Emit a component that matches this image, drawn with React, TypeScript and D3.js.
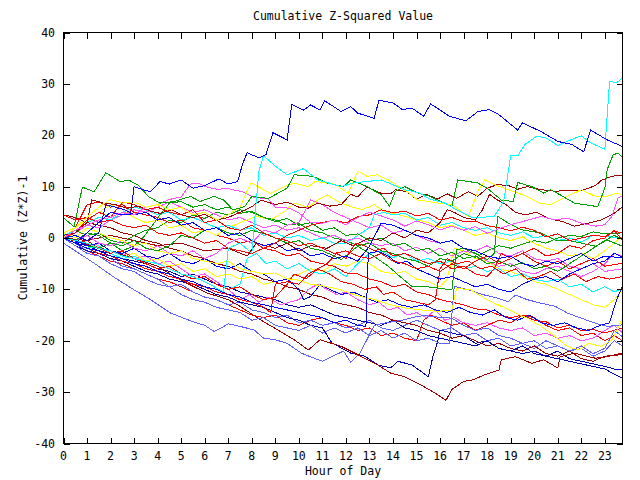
import React from "react";
import * as d3 from "d3";

type P = [number, number];

const title = "Cumulative Z-Squared Value";
const xLabel = "Hour of Day";
const yLabel = "Cumulative (Z*Z)-1";
const xTicks = d3.range(0, 24);
const yTicks = [-40, -30, -20, -10, 0, 10, 20, 30, 40];

const B1: P[] = [[0,0],[0.5,-1],[1,1],[1.5,3],[2,5],[2.5,4.5],[2.85,4.5],[3.0,10],[3.3,9.5],[3.7,9],[4.1,11],[4.5,10.5],[5,11.3],[5.5,9.7],[6,10.2],[6.6,11.5],[7,10.5],[7.4,11],[7.6,14.3],[7.8,16.6],[8.3,15.6],[8.6,16.2],[8.9,20.5],[9.5,19.1],[9.7,26],[10.2,24.9],[10.5,25.9],[10.9,24.9],[11.1,26.7],[11.8,24.6],[12.2,25.6],[12.5,24.3],[13.2,23.3],[13.4,26.8],[14,26.3],[14.4,25],[14.8,25.3],[15.3,23.7],[15.6,26.1],[16.4,23.7],[17.1,22.8],[17.6,24.6],[18.1,25],[18.5,24],[19.3,21],[19.5,22.4],[20.3,20.7],[21,18.8],[21.6,18.2],[22.1,16.8],[22.4,21],[23.1,19.1],[23.75,17.8]];
const C1: P[] = [[0,0],[0.5,-0.5],[1,-1],[1.5,-2],[2,-2.5],[2.5,-3.5],[3,-4],[3.5,-4.5],[4,-5],[4.5,-6],[5,-7],[5.5,-7.5],[6,-8.5],[6.4,-9.5],[6.8,-10.5],[7.0,-2],[7.5,-1],[8.0,-3],[8.3,13],[8.5,16],[9,14],[9.5,12.3],[10.2,13.5],[10.8,11.3],[11.8,10],[12.3,10.7],[13.5,11.3],[14.5,9.4],[15.1,8.8],[15.6,7.5],[16.2,6.8],[16.7,5.5],[17.4,3.9],[18.3,4.2],[18.7,7.1],[19.0,16],[19.3,16],[19.6,18.2],[20.1,19.8],[20.5,19.5],[21.0,18],[21.5,19],[22.0,19.9],[22.4,18.5],[23.0,17.3],[23.2,30.5],[23.5,30.2],[23.75,31.2]];
const G1: P[] = [[0,3.9],[0.45,2.2],[0.8,9.9],[1.3,9],[1.8,12.7],[2.4,11],[2.8,11.2],[3.2,10.2],[3.6,8.1],[4.1,6.8],[4.7,7.1],[5.4,8.1],[5.8,7.1],[6.4,8.1],[6.8,7.4],[7.2,5.5],[7.7,6.1],[8.0,8.1],[8.7,7.7],[9.5,9.7],[9.8,12.3],[10.6,12],[11.2,10.7],[11.9,10],[12.2,11.3],[12.9,10],[13.5,8.4],[13.85,6.2],[14.1,9.1],[14.5,10],[15.05,8.75],[15.5,8.2],[15.9,7.4],[16.5,6.1],[16.75,11.3],[17.2,11],[17.6,10.7],[18.0,9.7],[18.6,7.4],[19.1,7.1],[19.3,10.8],[19.9,10],[20.4,8.75],[20.7,9.4],[21.1,8.4],[21.7,6.8],[22.7,6.1],[23.0,9.7],[23.1,13.3],[23.35,16.2],[23.56,16.5],[23.75,15.75]];
const Y1: P[] = [[0,1],[0.5,2],[1,4],[1.5,6],[2,7.5],[2.5,6.8],[3,7],[3.5,6],[4,6.5],[4.5,5.5],[5,6],[5.5,4.5],[6,5],[6.5,3.5],[7,4.5],[7.5,6],[7.96,10.7],[8.8,8.7],[9.4,10],[9.8,10.7],[10.4,10],[10.7,11],[11.5,10.5],[12.1,8.7],[12.5,13],[12.9,12],[13.35,12.3],[13.8,11.3],[14.6,9],[15.05,7.4],[15.5,7.1],[15.9,6.8],[16.5,6.5],[17.2,4.2],[17.6,9],[17.9,11.3],[18.3,10.4],[18.9,9.4],[19.7,8.1],[20.2,6.8],[20.7,6.5],[21.1,7.4],[21.7,8.75],[22,9.4],[22.6,8.1],[23.1,8.1],[23.5,8.75],[23.75,8.4]];
const DR2: P[] = [[0,0.5],[0.5,1],[1,3],[1.2,7.4],[1.7,6.8],[2.2,6.5],[2.7,5.8],[3.2,6.2],[3.7,5.2],[4.1,4.8],[4.6,5.5],[5,4.5],[5.5,4],[6,4.6],[6.5,3.5],[7,4],[7.5,5],[8,6.1],[8.4,7.4],[9,6.5],[9.5,7],[10,6],[10.4,5.8],[10.8,6.8],[11.3,6.2],[11.8,6.5],[12.2,8.5],[12.5,8],[12.78,9.4],[12.9,9.9],[13.5,8.7],[13.9,8.6],[14.1,9.4],[14.6,9],[15,7.5],[15.4,8.5],[15.9,7.6],[16.3,8.6],[16.7,7.7],[17.2,9],[17.6,8.1],[18,9.7],[18.45,10.4],[18.9,10.2],[19.3,9.5],[19.7,10],[20.3,9.4],[20.9,9.1],[21.5,9.3],[22,9.2],[22.6,10.2],[22.85,11.2],[23.1,11.7],[23.4,12.1],[23.75,12.1]];
const M1: P[] = [[0,0],[0.5,1.5],[1,2.5],[1.5,3.5],[2,4],[2.5,5],[3,4.5],[3.5,6],[4,6.5],[4.5,7.5],[5,8],[5.4,10.5],[5.7,10.7],[6.1,9.9],[6.5,9.5],[7,9.6],[7.6,9],[8.1,7.9],[8.7,7.6],[9,6],[9.6,5.8],[10,4.9],[10.5,3],[11,2.9],[11.5,3.5],[12,2.6],[12.5,4],[13,5],[13.5,4.3],[14,3.5],[14.5,2.3],[15,3.3],[15.5,2.6],[16,1.6],[16.5,2.3],[17,1.5],[17.5,2.2],[18,0.9],[18.5,1.8],[19,2.6],[19.5,3.2],[20.3,4.2],[20.9,3.5],[21.4,3.9],[22,2.9],[22.6,2.3],[23,2.6],[23.3,4.2],[23.56,7.8],[23.75,8.2]];
const DR3: P[] = [[0,0],[1,-0.5],[2,0.5],[3,-0.5],[4,-1.5],[5,-1],[6,-2.5],[7,-2],[7.8,-3.5],[8.2,-1],[9,-2],[9.5,-1],[10,-2.5],[10.5,-1.5],[11.2,-2],[11.8,-0.5],[12.3,-1.5],[13,0],[13.5,-0.5],[14,1],[14.5,0],[15,1.5],[15.5,1],[16,3],[16.3,5.5],[16.6,5],[17,4],[17.5,3.5],[17.8,5.5],[18.1,8.5],[18.4,7.5],[18.8,6.5],[19.2,5],[19.6,4.5],[20.1,5],[20.6,3.8],[21.2,3.2],[21.7,2.3],[22.3,2.9],[22.85,3.5],[23.4,4.8],[23.75,6.1]];
const R1: P[] = [[0,0],[0.5,2],[1,6.5],[1.5,7],[2,6],[2.5,6.5],[3,5],[3.5,4.5],[4,4],[4.5,3],[5,3.5],[5.5,2],[6,1.5],[6.5,0.5],[7,0],[7.5,-1],[8,-0.5],[8.5,-2],[9,-2.5],[9.5,-3.5],[10,-3],[10.5,-4.5],[11,-5],[11.5,-5.5],[12,-6.8],[12.5,-7],[13,-8],[13.5,-8.5],[14,-9.5],[14.5,-9],[15,-10.5],[15.5,-11],[16,-12],[16.5,-12.5],[17,-13],[17.5,-13.8],[18,-14],[18.5,-15],[19,-15.5],[19.5,-15],[20,-16],[20.5,-16.3],[21,-17.5],[21.5,-17],[22,-18],[22.5,-17.8],[23,-18.5],[23.75,-17.5]];
const R2: P[] = [[0,4.5],[0.5,3.5],[1,4],[1.5,3],[2,3.5],[2.5,2.5],[3,2],[3.5,2.5],[4,1],[4.5,0.5],[5,1],[5.5,0],[6,-1],[6.5,-0.5],[7,-2],[7.5,-2.5],[8,-3],[8.5,-2],[9,-1],[9.5,0.5],[10,1.5],[10.5,2.5],[11,3],[11.5,3.5],[12,2.9],[12.5,4.2],[13,4.5],[13.5,5.5],[14,4.9],[14.5,5.2],[15,4.3],[15.5,4.8],[16,3.5],[16.5,4],[17,3.2],[17.5,3.3],[18,2.4],[18.5,2],[19,1.4],[19.5,2.1],[20,1.5],[20.5,0.2],[21,0.8],[21.5,-0.5],[22,0],[22.5,0.5],[23,0.3],[23.4,1.3],[23.75,1.0]];
const G2: P[] = [[0,0],[0.5,-0.5],[1,1],[1.5,0.5],[2,-1],[2.5,-1.5],[3,-0.5],[3.5,-2],[4,-2.5],[4.5,-1.5],[5,0.5],[5.5,0],[6,1.5],[6.5,2],[7,1],[7.5,0.5],[8,1.5],[8.5,0.9],[9,0],[9.5,-1],[10,-0.5],[10.5,-2],[11,-2.5],[11.5,-3.5],[11.8,-4.2],[12.5,-1.6],[13.2,-3.6],[13.8,-5.5],[14.3,-7.5],[14.8,-9.4],[15.3,-9.4],[16,-9.8],[16.5,-10.1],[16.7,-2.3],[17,-2],[17.5,-3],[18,-4.2],[18.3,-3],[18.45,4.2],[18.9,2.9],[19.45,1.6],[20.3,0.95],[20.9,-0.4],[21.5,-0.5],[22,-1],[22.6,-1.6],[23.1,-0.4],[23.75,-1.6]];
const G3: P[] = [[0,0],[0.5,1.5],[1,0.5],[1.5,1],[2,-0.5],[2.5,-1],[3,0.5],[3.5,1.5],[4,2],[4.5,3.5],[5,3],[5.5,4.5],[6,3.8],[6.5,5],[7,4.5],[7.5,5.5],[8,5],[8.5,4],[9,3.5],[9.5,2.5],[10,2.8],[10.5,1.5],[11,1],[11.5,0],[12,-0.5],[12.5,-1.5],[13,-1],[13.5,-2.5],[14,-3],[14.5,-4],[15,-4.5],[15.5,-5.5],[16,-4],[16.5,-4.5],[17,-3],[17.5,-3.8],[18,-2.5],[18.5,-1.5],[19,-2],[19.5,-1.2],[20,-0.5],[20.5,-1],[21,0],[21.5,0.5],[22,0.3],[22.5,1.2],[23,0.8],[23.75,1.0]];
const G4: P[] = [[0,0.5],[0.5,-0.5],[1,-1.5],[1.5,-2],[2,-1],[2.5,-2.5],[3,-1.5],[3.3,-0.4],[3.7,2],[4.1,4.5],[4.5,6.8],[5,7.1],[5.5,6],[6,6.5],[6.5,5.5],[7,6],[7.5,4.8],[8,5.2],[8.5,4],[9,3.2],[9.5,3.8],[10,2.5],[10.5,3],[11,1.5],[11.5,2],[12,0.5],[12.5,0.8],[13,-0.5],[13.5,0],[14,-1.5],[14.5,-1],[15,-2.5],[15.5,-2],[16,-3.5],[16.5,-2.8],[17,-4],[17.5,-3.5],[18,-5],[18.5,-4.5],[19,-5.5],[19.5,-4.8],[20,-6],[20.5,-5.5],[21,-6.5],[21.5,-5],[22,-3.5],[22.5,-2],[23,-0.5],[23.4,0.5],[23.75,-0.3]];
const C2: P[] = [[0,0],[0.5,-1],[1,-2],[1.5,-1.5],[2,-3],[2.5,-4],[3,-3.5],[3.5,-5],[4,-6],[4.5,-5.5],[5,-7],[5.5,-8],[6,-7.5],[6.5,-9],[7,-10],[7.5,-9],[7.8,-4],[8.2,-3],[8.6,-5],[9,-4.5],[9.5,-6],[10,-5],[10.5,-6.5],[11,-7],[11.5,-6],[12,-7.5],[12.5,-5],[13,-3],[13.5,-2.5],[14,-3.8],[14.5,-3],[15,-4.5],[15.5,-4],[16,-5],[16.5,-4.5],[17,-6],[17.5,-5.5],[18,-6.5],[18.5,-6],[19,-7.5],[19.5,-7],[20,-8],[20.5,-8.5],[21,-8],[21.5,-9.5],[22,-9],[22.5,-10.5],[23,-9.5],[23.4,-10.5],[23.75,-9.8]];
const C3: P[] = [[0,0.5],[0.5,1.5],[1,3],[1.5,4],[2,3.5],[2.5,5],[3,6],[3.5,5.5],[4,4.5],[4.5,5],[5,3.5],[5.5,4],[6,3],[6.5,2],[7,2.5],[7.5,1.5],[8,2],[8.5,0.5],[9,1],[9.5,0],[10,0.5],[10.5,-0.5],[11,0],[11.5,-1],[12,-1],[12.5,0.5],[13,2],[13.2,4.5],[13.6,5],[14,4.5],[14.5,4.8],[15,3.5],[15.5,4],[16,2.5],[16.5,3],[17,2],[17.5,1.5],[18,2],[18.5,1],[19,0.5],[19.5,1.2],[20,0],[20.5,0.5],[21,-0.5],[21.5,0],[22,-0.8],[22.5,0.5],[23,0.3],[23.75,0]];
const Y2: P[] = [[0,1],[0.5,0],[1,2],[1.5,1],[2,0],[2.5,-0.5],[3,-1.5],[3.5,-1],[4,-2.5],[4.5,-3],[5,-2.5],[5.5,-4],[6,-4.5],[6.5,-5],[7,-4.5],[7.5,-6],[8,-6.5],[8.5,-7],[9,-6.8],[9.5,-8],[10,-8.2],[10.5,-9],[11,-9.3],[11.8,-10.1],[12.4,-11.1],[13.2,-12],[13.9,-13],[14.6,-13.7],[15.2,-14],[15.9,-14.3],[16.5,-14],[16.7,-9.8],[17.3,-10.1],[18,-12],[18.6,-13.3],[19.2,-14.6],[19.7,-15.6],[20.3,-17.2],[20.9,-19.2],[21.4,-21.1],[21.9,-21.8],[22.3,-20.5],[22.85,-21.1],[23.3,-19.8],[23.6,-17.2],[23.75,-15.3]];
const Y3: P[] = [[0,0],[0.5,2],[1,3.5],[1.5,5],[2,6.5],[2.5,5.5],[3,4],[3.5,3],[4,3.5],[4.5,2],[5,2.5],[5.5,1],[6,1.5],[6.5,0.5],[7,2],[7.5,3],[8.2,4.2],[8.8,3.5],[9.4,5.2],[9.8,6.8],[10.4,6],[10.8,7.4],[11.2,8.4],[11.7,7],[12.2,6.1],[12.7,5.5],[13.2,6.5],[13.6,5.2],[14,4.8],[14.5,4.2],[15,3.5],[15.5,3],[16,2],[16.5,2.5],[17,1.5],[17.5,0.5],[18,1],[18.5,0],[19,-0.5],[19.5,0.2],[20,-1],[20.5,-2],[21,-2.5],[21.5,-3.5],[22,-3],[22.5,-4],[23,-2.5],[23.4,-1],[23.75,0.5]];
const Y4: P[] = [[0,0],[0.5,-1],[1,-0.5],[1.5,-2],[2,-2.5],[2.5,-3.5],[3,-3],[3.5,-4.5],[4,-4],[4.5,-5.5],[5,-5],[5.5,-6.5],[6,-6],[6.5,-7.5],[7,-7],[7.5,-8],[8,-7.5],[8.5,-9],[9,-8.5],[9.5,-8],[10,-7],[10.5,-6],[11,-6.5],[11.5,-5],[12,-5.5],[12.5,-4.5],[13,-5],[13.5,-6.5],[14,-7],[14.5,-6.5],[15,-8],[15.5,-8.5],[16,-9.5],[16.3,-8],[16.6,-2],[17,-2.5],[17.5,-4],[18,-4.5],[18.5,-6],[19,-6.5],[19.5,-7.5],[20,-8.5],[20.5,-9],[21,-10],[21.5,-11],[22,-12],[22.5,-13],[23,-13.5],[23.4,-12],[23.75,-10]];
const M2: P[] = [[0,0],[0.5,-1],[1,-2],[1.5,-1],[2,-2.5],[2.5,-3],[3,-4],[3.5,-3.5],[4,-5],[4.5,-4.5],[5,-6],[5.5,-7.5],[6,-7],[6.5,-8.5],[7,-10],[7.5,-12],[7.9,-11],[8.3,-12.5],[8.7,-11.5],[9.2,-13],[9.6,-12.5],[10,-12],[10.4,-10],[10.8,-9],[11.2,-10],[11.6,-11],[12,-10.5],[12.5,-12],[13,-13],[13.4,-12.5],[13.8,-14],[14.2,-13.5],[14.6,-15],[15,-14.5],[15.4,-15.5],[15.8,-14],[16.2,-16],[16.6,-15.5],[17,-16.5],[17.5,-17],[18,-16.5],[18.5,-17.5],[19,-18],[19.5,-17.5],[20,-19],[20.5,-18.5],[21,-19.5],[21.5,-19],[22,-20],[22.5,-19.5],[23,-18],[23.4,-17],[23.75,-18.5]];
const M3: P[] = [[0,0],[0.5,1],[1,2.5],[1.5,2],[2,3.5],[2.5,4.5],[3,5.5],[3.5,5],[4,6],[4.5,7],[5,6],[5.5,5],[6,5.5],[6.5,4.5],[7,3.5],[7.5,4],[8,3],[8.5,2],[9,2.5],[9.5,1.5],[10,2],[10.5,1],[11,0],[11.5,0.5],[12,-0.5],[12.5,0],[13,-1],[13.5,-1.5],[14,-1],[14.5,-2.5],[15,-1.8],[15.5,-3],[16,-2],[16.5,-3.5],[17,-2.5],[17.5,-3],[18,-4.5],[18.5,-5.5],[19,-5],[19.5,-6.5],[20,-7],[20.5,-6],[21,-5.5],[21.5,-6.5],[22,-7.5],[22.5,-6.5],[23,-5],[23.4,-3],[23.75,-3.5]];
const M4: P[] = [[0,0],[0.5,-0.5],[1,0.5],[1.5,-1],[2,-1.5],[2.5,-0.5],[3,-2],[3.5,-2.5],[4,-1.5],[4.5,-3],[5,-3.5],[5.5,-2.5],[6,-4],[6.5,-3],[7,-1],[7.5,0],[8,-1],[8.5,1.5],[9,1],[9.5,2.5],[10,3],[10.5,7.4],[11,6.5],[11.5,5],[12,4],[12.5,3],[13,2],[13.5,2.5],[14,1],[14.5,1.5],[15,0.5],[15.5,-0.5],[16,-1],[16.5,-0.5],[17,-2],[17.5,-2.5],[18,-1.5],[18.5,-3],[19,-3.5],[19.5,-2.5],[20,-4],[20.5,-4.5],[21,-4],[21.5,-5.5],[22,-6],[22.5,-5],[23,-6.5],[23.75,-6]];
const LB1: P[] = [[0,-1],[0.5,-2.5],[1.3,-4.9],[2.1,-7.5],[3,-10.1],[3.7,-12],[4.55,-14.6],[5.5,-16.3],[6,-17],[6.4,-18.2],[6.7,-17.5],[7,-16.7],[7.5,-17.2],[8.1,-17.9],[8.5,-19.5],[9,-19.8],[9.5,-20.5],[10.1,-22.4],[10.65,-23.4],[11,-24],[11.4,-23.1],[11.9,-22],[12.2,-24.2],[12.6,-22.4],[13.2,-17],[13.6,-16.6],[14.5,-15.9],[14.9,-15.4],[15.3,-15.1],[15.9,-15.4],[16.5,-15.6],[17,-17],[17.5,-18],[18,-17.5],[18.5,-19],[19,-19.5],[19.5,-20.5],[20,-20],[20.5,-21.5],[21,-21],[21.5,-22],[22,-21],[22.5,-22.5],[23,-21.5],[23.4,-18],[23.75,-19.2]];
const LB2: P[] = [[0,0],[0.5,-1.5],[1,-3],[1.5,-3.5],[2,-5],[2.5,-6],[3,-6.5],[3.5,-8],[4,-9],[4.5,-9.5],[5,-11],[5.5,-12],[6,-12.5],[6.5,-13.5],[7,-14],[7.5,-14.5],[8,-16],[8.5,-15.5],[9,-17],[9.5,-17.5],[10,-18],[10.5,-17],[11,-18.5],[11.5,-17.5],[12,-18.5],[12.5,-17.5],[13,-19],[13.5,-18],[14,-19.5],[14.5,-18.5],[15,-20],[15.5,-19.5],[16,-20.5],[16.4,-20.5],[16.6,-9.4],[17.2,-10.1],[17.8,-11],[18.45,-11.7],[18.9,-12.4],[19.2,-11.1],[19.7,-12],[20.3,-12.7],[20.9,-13.3],[21.4,-14.6],[22,-15.6],[22.6,-16.6],[23.1,-17.2],[23.75,-16.9]];
const LB3: P[] = [[0,0],[0.5,-1],[1,-2.5],[1.5,-3],[2,-4],[2.5,-5.5],[3,-6],[3.5,-7],[4,-8],[4.5,-9.5],[5,-9],[5.5,-10.5],[6,-11.5],[6.5,-12],[7,-13],[7.5,-12.5],[8,-14],[8.5,-14.5],[9,-15.5],[9.5,-15],[10,-16.5],[10.5,-16],[11,-17],[11.5,-16.5],[12,-17.5],[12.5,-17],[13,-16],[13.5,-17.5],[14,-18],[14.5,-17],[15,-16],[15.5,-17],[16,-18],[16.5,-17.5],[17,-19],[17.5,-18.5],[18,-20],[18.5,-19.5],[19,-21],[19.5,-20.5],[20,-21.5],[20.5,-20],[21,-21],[21.5,-22],[22,-21.5],[22.5,-23],[23,-22],[23.4,-20],[23.75,-21]];
const B2: P[] = [[0,0],[0.5,-1],[1,-2],[1.5,-2.5],[2,-3.5],[2.5,-4],[3,-5],[3.5,-5.5],[4,-6.5],[4.5,-7],[5,-8],[5.5,-8.5],[6,-9.5],[6.5,-10],[7,-11],[7.5,-11.5],[8,-12.5],[8.5,-13],[9,-13.5],[9.5,-14],[10,-14.5],[10.5,-15],[11,-15.5],[11.5,-16.5],[12,-16],[12.5,-17],[12.85,-17.2],[12.95,-3],[13.35,-2.6],[13.8,-3.5],[14.2,-5],[14.6,-4.5],[15,-6],[15.5,-7],[16,-8],[16.5,-7.5],[17,-8.5],[17.5,-9.5],[18,-9],[18.5,-10],[19,-10.5],[19.5,-9],[20,-8],[20.5,-7.5],[21,-8.5],[21.5,-7],[22,-6],[22.5,-5],[23,-4.5],[23.4,-3],[23.75,-3.7]];
const B3: P[] = [[0,0],[0.5,-1.5],[1,-2.5],[1.5,-3],[2,-4],[2.5,-4.5],[3,-5.5],[3.5,-6.5],[4,-7],[4.5,-8],[5,-8.5],[5.5,-9],[6,-10],[6.5,-11],[7,-11.5],[7.5,-12.5],[8,-13],[8.5,-13.5],[9,-14.5],[9.5,-15.5],[10,-16],[10.5,-17],[11,-17.5],[11.4,-20.4],[12.2,-22.4],[12.8,-23],[13.35,-24.7],[13.9,-25.3],[14.2,-24],[14.8,-24.7],[15.5,-27],[15.7,-23],[15.9,-20.1],[16,-17.9],[16.5,-18.5],[17,-19],[17.5,-20.5],[18,-20],[18.5,-21.5],[19,-22],[19.5,-21],[20,-22.5],[20.5,-23],[21,-22],[21.5,-23.5],[22,-24],[22.5,-24.5],[23,-25],[23.4,-25.5],[23.75,-25.7]];
const B4: P[] = [[0,0],[0.5,-1],[1,-1.5],[1.5,-2.5],[2,-3],[2.5,-4],[3,-4.5],[3.5,-5],[4,-6],[4.5,-6.5],[5,-7.5],[5.5,-7],[6,-8],[6.5,-9],[7,-9.5],[7.5,-10.5],[8,-11],[8.5,-11.5],[9,-12],[9.5,-13],[10,-13.5],[10.5,-13],[11,-14],[11.5,-15],[12,-15.5],[12.5,-16],[13,-16.5],[13.5,-17],[14,-16],[14.5,-17.5],[15,-18],[15.5,-19],[16,-19.5],[16.5,-20],[17,-20.5],[17.5,-21],[18,-20],[18.5,-21.5],[19,-22],[19.5,-22.5],[20,-22],[20.5,-23],[21,-23.5],[21.5,-24],[22,-24.5],[22.5,-25],[23,-25.5],[23.4,-26.5],[23.75,-27.3]];
const B5: P[] = [[0,0],[0.5,-0.5],[1,-1.5],[1.5,-1],[2,-2.5],[2.5,-3],[3,-2],[3.5,-3.5],[4,-4],[4.5,-3],[5,-4.5],[5.5,-5],[6,-4],[6.5,-5.5],[7,-6],[7.5,-5],[8,-6.5],[8.5,-7],[9,-8.5],[9.5,-8],[10,-10],[10.2,-12],[10.5,-11.4],[10.9,-9.1],[11.3,-10],[11.8,-11],[12.3,-10.5],[12.8,-11.5],[13.3,-12.5],[13.8,-12],[14.3,-13],[14.8,-13.5],[15.3,-13],[15.8,-14],[16.3,-14.5],[16.8,-13.5],[17.3,-14.5],[17.8,-15],[18.3,-14],[18.8,-15.5],[19.3,-16],[19.8,-15],[20.3,-16.5],[20.8,-17],[21.3,-16.5],[21.8,-17.5],[22.3,-18],[22.8,-17],[23.2,-16.5],[23.5,-12],[23.75,-9.4]];
const B6: P[] = [[0,0],[0.5,0.5],[1,-0.5],[1.5,1],[1.8,6.5],[2.2,6],[2.6,5.5],[3,4.5],[3.5,5],[4,3.5],[4.5,4],[5,2.5],[5.5,3],[6,1.5],[6.5,2],[7,0.5],[7.5,1],[8,-0.5],[8.5,-1.5],[9,-1],[9.5,-2.5],[10,-2],[10.5,-3.5],[11,-3],[11.5,-4],[12,-3.5],[12.5,-4.5],[13,-1.6],[13.5,2.9],[14,2.5],[14.5,1.5],[15,0.5],[15.5,0],[16,-1],[16.5,-0.5],[17,-2],[17.5,-2.5],[18,-3.5],[18.5,-4],[19,-3.5],[19.5,-5],[20,-5.5],[20.5,-4.5],[21,-5],[21.5,-4],[22,-3],[22.5,-4.5],[23,-3.5],[23.75,-3.9]];
const R3: P[] = [[0,0],[0.5,1],[1,3.5],[1.5,5],[2,4],[2.5,7],[3,6.5],[3.5,5.5],[4,6],[4.5,5],[5,4.5],[5.5,5.5],[6,3],[6.5,3.5],[7,2],[7.5,1.5],[8,2.5],[8.5,1],[9,0],[9.5,-0.5],[10,-1.5],[10.5,-1],[11,-2],[11.5,-3],[12,-2.5],[12.5,-3.5],[13,-4],[13.5,-3],[14,-4.5],[14.5,-5],[15,-6],[15.5,-5.5],[16,-6.5],[16.5,-5],[17,-6],[17.5,-4.5],[18,-3.5],[18.5,-5],[19,-4],[19.5,-3],[20,-4.5],[20.5,-5.5],[21,-4.5],[21.5,-6],[22,-5],[22.5,-4],[23,-5.5],[23.75,-4.9]];
const R4: P[] = [[0,0],[0.5,-1],[1,-0.5],[1.5,-2],[2,-3],[2.5,-2.5],[3,-4],[3.5,-5],[4,-6],[4.5,-5.5],[5,-7],[5.5,-8],[6,-7.5],[6.5,-9],[7,-10],[7.5,-9.5],[8,-11],[8.5,-12],[9,-11.5],[9.5,-9],[9.8,-7],[10.3,-8],[10.8,-6],[11.3,-7],[11.8,-8.5],[12.3,-9],[12.8,-10],[13.3,-9.5],[13.6,-11],[14,-10.5],[14.5,-12],[15,-12.5],[15.5,-13],[15.8,-12],[16,-6],[16.3,-4],[16.7,-5],[17.2,-4.5],[17.7,-6],[18.2,-5.5],[18.7,-7],[19.2,-6],[19.7,-8],[20.2,-7.5],[20.7,-6.5],[21.2,-8],[21.7,-7],[22.2,-8.5],[22.7,-7.5],[23.2,-8],[23.75,-7.5]];
const R5: P[] = [[0,0],[0.5,-1],[1,-2],[1.5,-3],[2,-3.5],[2.5,-4.5],[3,-5],[3.5,-6],[4,-6.5],[4.5,-7.5],[5,-8],[5.5,-9],[6,-9.5],[6.5,-10.5],[7,-11],[7.5,-12],[8,-12.5],[8.5,-13.5],[8.8,-14.5],[9,-9],[9.5,-8.5],[10,-9],[10.4,-7],[10.8,-6],[11.2,-5],[11.6,-3],[12,-4],[12.4,-1],[12.8,-1.5],[13.2,-2.5],[13.6,-2],[14,-3.5],[14.5,-3],[15,-4],[15.5,-5],[16,-4.5],[16.5,-6],[17,-5.5],[17.5,-7],[18,-7.5],[18.3,-6],[18.6,-3],[19,-4],[19.5,-3],[20,-2],[20.5,-3.5],[21,-3],[21.5,-1.5],[22,-2],[22.5,-0.5],[23,0],[23.4,1.5],[23.75,-0.5]];
const R6: P[] = [[0,0],[0.5,-1.5],[1,-2.5],[1.5,-3.5],[2,-4.5],[2.5,-5],[3,-6],[3.5,-7],[4,-8],[4.5,-8.5],[5,-9.5],[5.5,-10.5],[6,-11.5],[6.5,-12],[7,-13],[7.5,-14],[8,-15],[8.5,-15.5],[9,-15],[9.5,-16.5],[10,-17],[10.5,-16],[11,-15.5],[11.5,-16.5],[12,-17],[12.5,-18],[13,-17.5],[13.5,-19],[14,-18.5],[14.5,-19.5],[15,-20],[15.3,-16],[15.6,-15],[16,-16],[16.5,-17],[17,-16.5],[17.5,-18],[18,-17],[18.5,-16],[19,-16.5],[19.5,-15],[20,-15.5],[20.5,-17],[21,-18],[21.5,-17.5],[22,-19],[22.5,-18.5],[23,-20],[23.4,-19],[23.75,-20]];
const DR4: P[] = [[0,4.5],[0.5,4],[1,3],[1.5,2.5],[2,2],[2.5,1],[3,0.5],[3.5,-0.5],[4,-1],[4.5,-2],[5,-2.5],[5.5,-3.5],[6,-4],[6.5,-5],[7,-5.5],[7.5,-6.5],[8,-7],[8.5,-8],[9,-8.5],[9.5,-9.5],[10,-10],[10.5,-11],[11,-11.5],[11.5,-12.5],[12,-13],[12.5,-13.5],[13,-14.5],[13.5,-15],[14,-16],[14.5,-16.5],[15,-17],[15.5,-18],[16,-18.5],[16.5,-19.5],[17,-19],[17.5,-20],[18,-21],[18.5,-20.5],[19,-21.5],[19.5,-22],[20,-21],[20.5,-22.5],[21,-23],[21.5,-22],[22,-23.5],[22.5,-24],[23,-23],[23.75,-22.7]];
const DR1: P[] = [[0,0],[1,-1.2],[2,-2.5],[3,-4],[4,-5.5],[4.7,-7.5],[5.5,-9.4],[6.1,-10.7],[7,-12],[7.5,-13.3],[8.4,-16],[9.1,-17.9],[9.8,-19.8],[10.4,-21.8],[10.9,-19.8],[11.8,-21.1],[12.5,-22.7],[13.35,-24.7],[13.9,-26.3],[14.5,-27],[15.3,-28.9],[15.9,-30.5],[16.25,-31.6],[16.5,-29.5],[17,-27.9],[17.4,-27.6],[17.9,-26.6],[18.5,-25.7],[18.6,-23.7],[19.2,-23.1],[19.9,-24.4],[20.4,-23.7],[21,-25.3],[21.1,-23.1],[21.7,-22.4],[22.6,-23.4],[23.1,-23.1],[23.75,-22.4]];

const RED = "#ff0000", GREEN = "#00a000", BLUE = "#0000ff", MAG = "#ff50ff", CYAN = "#00ffff", DRED = "#a00000", YEL = "#ffff00", LBLUE = "#6060ff", NAVY = "#0000b0";

const series: { data: P[]; color: string }[] = [
  { data: R6, color: RED }, { data: LB3, color: LBLUE }, { data: B4, color: NAVY }, { data: DR4, color: DRED },
  { data: M2, color: MAG }, { data: Y4, color: YEL }, { data: C2, color: CYAN }, { data: G3, color: GREEN },
  { data: R1, color: RED }, { data: B3, color: NAVY }, { data: LB1, color: LBLUE }, { data: DR1, color: DRED },
  { data: M3, color: MAG }, { data: Y3, color: YEL }, { data: C3, color: CYAN }, { data: G4, color: GREEN },
  { data: R4, color: RED }, { data: B5, color: BLUE }, { data: LB2, color: LBLUE }, { data: DR3, color: DRED },
  { data: M4, color: MAG }, { data: Y2, color: YEL }, { data: G2, color: GREEN }, { data: R5, color: RED },
  { data: B2, color: BLUE }, { data: R3, color: RED }, { data: B6, color: BLUE }, { data: R2, color: RED },
  { data: DR2, color: DRED }, { data: M1, color: MAG }, { data: Y1, color: YEL }, { data: G1, color: GREEN },
  { data: C1, color: CYAN }, { data: B1, color: BLUE },
];

const W = 640, H = 480;
const L = 63.5, R = 622.5, T = 32.5, B = 443.5;
const font = "'DejaVu Sans Mono', monospace";

export default function App() {
  const x = d3.scaleLinear().domain([0, 23.75]).range([L, R]);
  const y = d3.scaleLinear().domain([-40, 40]).range([B, T]);
  const line = d3.line<P>().x((d) => x(d[0])).y((d) => y(d[1]));
  const tl = 6;
  return (
    <svg width={W} height={H} style={{ position: "absolute", left: 0, top: 0, background: "#fff" }}>
      <rect x={0} y={0} width={W} height={H} fill="#fff" />
      <defs>
        <clipPath id="plot"><rect x={L} y={T} width={R - L} height={B - T} /></clipPath>
      </defs>
      <g clipPath="url(#plot)">
        {series.map((s, i) => (
          <path key={i} d={line(s.data) || ""} fill="none" stroke={s.color} strokeWidth={1} shapeRendering="crispEdges" />
        ))}
      </g>
      <g stroke="#000" strokeWidth={1} shapeRendering="crispEdges">
        {yTicks.map((t) => (
          <g key={"y" + t}>
            <line x1={L} x2={L + tl} y1={Math.round(y(t)) + 0.5} y2={Math.round(y(t)) + 0.5} />
            <line x1={R - tl} x2={R} y1={Math.round(y(t)) + 0.5} y2={Math.round(y(t)) + 0.5} />
          </g>
        ))}
        {xTicks.map((t) => (
          <g key={"x" + t}>
            <line x1={Math.round(x(t)) + 0.5} x2={Math.round(x(t)) + 0.5} y1={B} y2={B - tl} />
            <line x1={Math.round(x(t)) + 0.5} x2={Math.round(x(t)) + 0.5} y1={T} y2={T + tl} />
          </g>
        ))}
        <rect x={L} y={T} width={R - L} height={B - T} fill="none" />
      </g>
      <g fontFamily={font} fontSize={11.5} fill="#000">
        <text x={343} y={20} textAnchor="middle">{title}</text>
        {yTicks.map((t) => (
          <text key={"yl" + t} x={55} y={y(t) + 4} textAnchor="end">{t}</text>
        ))}
        {xTicks.map((t) => (
          <text key={"xl" + t} x={x(t)} y={460} textAnchor="middle">{t}</text>
        ))}
        <text x={343} y={475} textAnchor="middle">{xLabel}</text>
        <text transform={`translate(27,238) rotate(-90)`} textAnchor="middle">{yLabel}</text>
      </g>
    </svg>
  );
}
